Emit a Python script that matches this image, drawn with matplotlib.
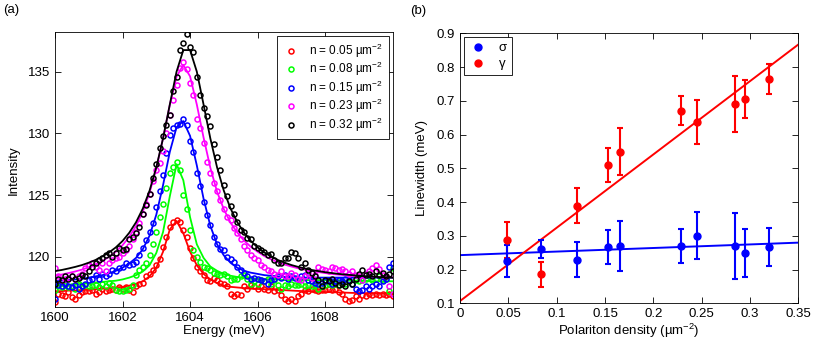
import matplotlib
matplotlib.use("Agg")
import matplotlib.pyplot as plt
from matplotlib.lines import Line2D

plt.rcParams.update({
    "font.family": ["Liberation Sans", "DejaVu Sans"],
    "font.size": 9.5,
    "mathtext.fontset": "custom",
    "mathtext.rm": "Liberation Sans",
    "mathtext.it": "Liberation Sans:italic",
    "axes.linewidth": 0.6,
    "xtick.direction": "in",
    "ytick.direction": "in",
    "xtick.top": True,
    "ytick.right": True,
    "xtick.major.size": 4,
    "ytick.major.size": 4,
    "xtick.major.width": 0.6,
    "ytick.major.width": 0.6,
})

# ---- panel (a): spectra, measured every 0.1 meV ----
energy = [
    1600.0, 1600.1, 1600.2, 1600.3, 1600.4, 1600.5, 1600.6, 1600.7, 1600.8, 1600.9,
    1601.0, 1601.1, 1601.2, 1601.3, 1601.4, 1601.5, 1601.6, 1601.7, 1601.8, 1601.9,
    1602.0, 1602.1, 1602.2, 1602.3, 1602.4, 1602.5, 1602.6, 1602.7, 1602.8, 1602.9,
    1603.0, 1603.1, 1603.2, 1603.3, 1603.4, 1603.5, 1603.6, 1603.7, 1603.8, 1603.9,
    1604.0, 1604.1, 1604.2, 1604.3, 1604.4, 1604.5, 1604.6, 1604.7, 1604.8, 1604.9,
    1605.0, 1605.1, 1605.2, 1605.3, 1605.4, 1605.5, 1605.6, 1605.7, 1605.8, 1605.9,
    1606.0, 1606.1, 1606.2, 1606.3, 1606.4, 1606.5, 1606.6, 1606.7, 1606.8, 1606.9,
    1607.0, 1607.1, 1607.2, 1607.3, 1607.4, 1607.5, 1607.6, 1607.7, 1607.8, 1607.9,
    1608.0, 1608.1, 1608.2, 1608.3, 1608.4, 1608.5, 1608.6, 1608.7, 1608.8, 1608.9,
    1609.0, 1609.1, 1609.2, 1609.3, 1609.4, 1609.5, 1609.6, 1609.7, 1609.8, 1609.9,
    1610.0,
]

red_pts = [
    116.3, 117.0, 116.9, 116.8, 117.1, 116.7, 116.6, 116.9, 117.1, 117.2,
    117.2, 117.3, 117.0, 117.1, 117.4, 117.2, 117.3, 117.4, 117.3, 117.5,
    117.4, 117.5, 117.3, 117.1, 117.6, 117.8, 117.9, 118.4, 118.6, 118.9,
    119.3, 119.8, 120.8, 121.6, 122.4, 122.8, 123.0, 122.8, 122.2, 121.6,
    120.7, 119.9, 119.2, 118.8, 118.5, 118.1, 118.0, 118.3, 118.1, 117.9,
    117.8, 117.6, 117.0, 116.8, 117.0, 116.9, 117.6, 117.4, 117.7, 117.6,
    117.4, 117.6, 117.4, 117.3, 117.6, 117.2, 117.3, 116.9, 116.6, 116.4,
    116.6, 116.4, 116.8, 117.0, 117.3, 117.2, 117.4, 117.3, 117.2, 117.3,
    117.3, 117.4, 117.3, 117.4, 117.1, 117.0, 116.6, 116.4, 116.5, 116.8,
    116.6, 116.9, 116.8, 117.0, 116.9, 117.0, 116.9, 117.0, 116.9, 117.0,
    116.8,
]
green_pts = [
    117.3, 117.6, 117.5, 117.7, 117.5, 117.6, 117.4, 117.8, 117.6, 117.7,
    117.6, 117.6, 117.7, 117.5, 117.8, 117.6, 117.9, 117.7, 117.3, 117.2,
    117.2, 117.3, 117.4, 117.7, 118.5, 118.9, 119.2, 119.5, 120.1, 121.0,
    122.0, 123.2, 124.3, 125.6, 126.8, 127.3, 127.7, 127.0, 125.0, 123.9,
    122.2, 120.5, 120.0, 119.6, 119.2, 119.05, 118.9, 118.7, 118.6, 118.5,
    118.6, 118.4, 118.1, 118.2, 118.2, 118.4, 118.5, 118.2, 117.8, 118.0,
    117.8, 118.1, 118.0, 118.2, 117.8, 118.1, 117.7, 117.4, 117.7, 117.6,
    117.8, 117.7, 117.7, 117.8, 117.6, 117.7, 117.6, 117.7, 117.4, 117.6,
    117.7, 117.8, 117.7, 117.8, 117.7, 118.0, 117.8, 118.0, 117.8, 118.1,
    118.0, 118.1, 118.2, 118.4, 118.1, 118.2, 118.4, 118.1, 118.2, 117.2,
    119.1,
]
blue_pts = [
    116.6, 117.7, 117.6, 117.8, 117.6, 117.5, 117.7, 117.4, 117.6, 117.8,
    118.1, 118.2, 118.5, 118.2, 118.6, 118.4, 118.6, 118.9, 118.8, 119.1,
    119.2, 119.5, 119.3, 119.4, 119.6, 120.1, 120.7, 121.35, 122.0, 122.7,
    124.0, 125.3, 126.6, 128.4, 129.9, 130.4, 130.7, 130.8, 131.2, 130.7,
    129.4, 128.5, 126.8, 125.7, 124.4, 123.4, 122.6, 121.6, 121.0, 120.6,
    120.5, 120.0, 119.8, 119.6, 119.2, 118.9, 118.7, 118.4, 118.2, 118.3,
    118.2, 118.1, 118.0, 117.8, 118.1, 118.2, 118.4, 118.3, 118.5, 118.2,
    118.4, 118.3, 118.2, 118.4, 118.5, 118.1, 118.0, 117.9, 117.8, 117.9,
    118.0, 118.1, 117.8, 118.0, 118.1, 118.0, 118.2, 118.1, 117.8, 117.4,
    117.2, 117.3, 117.6, 117.4, 117.6, 117.8, 117.6, 118.0, 118.2, 119.2,
    119.5,
]
magenta_pts = [
    119.1, 118.4, 118.1, 118.2, 118.3, 118.4, 118.2, 118.4, 118.6, 119.1,
    119.3, 119.5, 119.2, 118.9, 119.5, 118.8, 119.5, 119.7, 119.9, 120.0,
    120.3, 120.5, 120.9, 121.4, 122.0, 122.7, 123.5, 124.3, 125.1, 126.1,
    127.0, 127.6, 128.6, 130.0, 131.5, 132.7, 133.9, 135.3, 135.8, 135.2,
    134.1, 133.1, 131.2, 130.4, 129.2, 127.7, 126.8, 126.0, 125.3, 124.6,
    123.9, 123.2, 123.0, 122.3, 121.9, 121.4, 120.9, 120.5, 120.1, 119.9,
    119.7, 119.3, 119.2, 118.9, 118.8, 118.6, 118.5, 118.8, 118.4, 118.4,
    118.7, 118.5, 118.2, 118.1, 118.4, 118.7, 118.3, 118.5, 119.2, 119.0,
    118.9, 118.8, 119.2, 119.1, 118.9, 119.0, 118.8, 118.6, 118.8, 118.5,
    118.4, 118.1, 118.6, 118.8, 119.1, 119.3, 119.0, 118.5, 118.4, 117.6,
    117.0,
]
black_pts = [
    117.8, 118.2, 118.1, 118.4, 118.2, 118.4, 118.2, 118.3, 118.5, 118.4,
    118.8, 119.2, 119.5, 119.7, 119.9, 120.1, 120.3, 120.0, 120.3, 120.7,
    120.5, 120.6, 121.4, 121.6, 121.9, 122.4, 123.5, 124.2, 125.1, 126.4,
    127.5, 128.8, 129.8, 130.7, 131.5, 133.4, 134.6, 136.8, 137.3, 138.1,
    137.0, 136.6, 134.6, 133.1, 132.1, 131.4, 130.6, 129.1, 128.1, 127.0,
    125.8, 124.9, 124.1, 123.5, 122.8, 122.2, 122.0, 121.5, 121.4, 120.9,
    120.7, 120.5, 120.4, 120.1, 120.2, 119.7, 119.5, 119.5, 119.9, 119.9,
    120.4, 120.3, 119.9, 119.2, 119.5, 118.9, 118.7, 118.4, 118.1, 117.6,
    118.1, 118.0, 118.2, 117.9, 117.7, 117.8, 117.6, 118.0, 117.8, 118.2,
    118.6, 118.9, 118.5, 118.6, 118.4, 118.8, 118.5, 118.7, 118.4, 118.6,
    118.8,
]

# fitted curves every 0.2 meV (energy[::2])
red_fit = [
    117.2, 117.2, 117.25, 117.25, 117.3, 117.3, 117.35, 117.4, 117.45, 117.5,
    117.55, 117.65, 117.8, 118.0, 118.4, 119.1, 120.4, 122.2, 122.9, 121.9,
    120.4, 119.3, 118.6, 118.15, 117.85, 117.65, 117.55, 117.5, 117.45, 117.4,
    117.38, 117.35, 117.33, 117.3, 117.28, 117.25, 117.22, 117.2, 117.18, 117.15,
    117.13, 117.12, 117.1, 117.08, 117.06, 117.05, 117.04, 117.03, 117.02, 117.01, 117.0,
]
green_fit = [
    117.6, 117.65, 117.7, 117.75, 117.8, 117.85, 117.9, 117.95, 118.0, 118.05,
    118.15, 118.3, 118.5, 118.8, 119.3, 120.3, 122.0, 124.9, 127.5, 126.2,
    123.2, 121.0, 119.9, 119.2, 118.85, 118.6, 118.45, 118.35, 118.3, 118.25,
    118.2, 118.2, 118.15, 118.15, 118.1, 118.1, 118.1, 118.1, 118.1, 118.1,
    118.1, 118.1, 118.1, 118.05, 118.05, 118.05, 118.05, 118.0, 118.0, 118.0, 118.0,
]
blue_fit = [
    118.0, 118.05, 118.1, 118.15, 118.2, 118.3, 118.4, 118.5, 118.65, 118.85,
    119.1, 119.45, 119.9, 120.6, 121.7, 123.4, 125.8, 128.5, 130.5, 131.0,
    129.8, 127.4, 124.7, 122.5, 121.0, 120.1, 119.5, 119.1, 118.85, 118.7,
    118.6, 118.5, 118.45, 118.4, 118.35, 118.35, 118.3, 118.3, 118.3, 118.3,
    118.3, 118.3, 118.3, 118.3, 118.3, 118.3, 118.3, 118.3, 118.3, 118.3, 118.3,
]
magenta_fit = [
    118.45, 118.55, 118.67, 118.80, 118.95, 119.14, 119.37, 119.64, 119.98, 120.39,
    120.93, 121.61, 122.49, 123.65, 125.18, 127.16, 129.61, 132.31, 134.61, 135.55,
    134.63, 132.34, 129.66, 127.22, 125.26, 123.85, 122.75, 121.95, 121.30, 120.80,
    120.40, 120.05, 119.78, 119.55, 119.36, 119.20, 119.06, 118.94, 118.84, 118.75,
    118.67, 118.60, 118.54, 118.49, 118.45, 118.42, 118.40, 118.38, 118.35, 118.34, 118.33,
]
black_fit = [
    118.83, 118.92, 119.04, 119.17, 119.32, 119.51, 119.73, 120.01, 120.34, 120.75,
    121.27, 121.94, 122.79, 123.90, 125.35, 127.24, 129.60, 132.34, 135.01, 136.76,
    136.76, 135.01, 132.34, 129.60, 127.24, 125.35, 123.90, 122.79, 121.94, 121.27,
    120.75, 120.34, 120.01, 119.73, 119.51, 119.32, 119.17, 119.04, 118.92, 118.83,
    118.74, 118.67, 118.60, 118.55, 118.50, 118.45, 118.41, 118.38, 118.34, 118.32, 118.29,
]

densities_label = ["0.05", "0.08", "0.15", "0.23", "0.32"]
spectra_colors = ["#ff0000", "#00ff00", "#0000ff", "#ff00ff", "#000000"]
spectra_pts = [red_pts, green_pts, blue_pts, magenta_pts, black_pts]
spectra_fit = [red_fit, green_fit, blue_fit, magenta_fit, black_fit]

energy_ticks = [1600, 1602, 1604, 1606, 1608]
intensity_ticks = [120, 125, 130, 135]

# ---- panel (b): linewidths vs density ----
density = [0.049, 0.084, 0.121, 0.153, 0.166, 0.229, 0.245, 0.285, 0.295, 0.320]
sigma = [0.225, 0.261, 0.230, 0.268, 0.270, 0.270, 0.301, 0.270, 0.249, 0.267]
sigma_err = [0.047, 0.027, 0.051, 0.050, 0.073, 0.049, 0.070, 0.098, 0.072, 0.057]
gamma = [0.288, 0.186, 0.390, 0.510, 0.550, 0.671, 0.638, 0.691, 0.706, 0.764]
gamma_err = [0.054, 0.036, 0.052, 0.049, 0.071, 0.043, 0.066, 0.083, 0.057, 0.045]

fit_density = [0.0, 0.35]
sigma_line = [0.243, 0.280]
gamma_line = [0.107, 0.867]

density_ticks = [0, 0.05, 0.1, 0.15, 0.2, 0.25, 0.3, 0.35]
density_ticklabels = ["0", "0.05", "0.1", "0.15", "0.2", "0.25", "0.3", "0.35"]
width_ticks = [0.1, 0.2, 0.3, 0.4, 0.5, 0.6, 0.7, 0.8, 0.9]


fig = plt.figure(figsize=(8.22, 3.44), dpi=100)

# (a)
ax1 = fig.add_axes([0.0669, 0.107, 0.4108, 0.799])
fit_energy = energy[::2]
for lab, col, pts, fit in zip(densities_label, spectra_colors, spectra_pts, spectra_fit):
    ax1.plot(energy, pts, "o", mfc="none", mec=col, ms=3.6, mew=1.1,
             label=f"n = {lab} \u00b5m$^{{-2}}$")
    ax1.plot(fit_energy, fit, "-", color=col, lw=1.3)
ax1.set_xlim(1600, 1610)
ax1.set_ylim(115.9, 138.2)
ax1.set_xticks(energy_ticks)
ax1.set_yticks(intensity_ticks)
ax1.set_xlabel("Energy (meV)", labelpad=1)
ax1.set_ylabel("Intensity", labelpad=6)
leg1 = ax1.legend(loc="upper right", fontsize=8.5, frameon=True, fancybox=False,
                  edgecolor="black", framealpha=1, borderaxespad=0.35,
                  handlelength=1.5, handletextpad=0.8, labelspacing=0.02,
                  borderpad=0.45)
leg1.get_frame().set_linewidth(0.6)
fig.text(0.004, 0.962, "(a)", fontsize=9.5)

# (b)
ax2 = fig.add_axes([0.5596, 0.118, 0.4116, 0.785])
ax2.plot(fit_density, sigma_line, "-", color="#0000ff", lw=1.4)
ax2.plot(fit_density, gamma_line, "-", color="#ff0000", lw=1.4)
ax2.errorbar(density, gamma, yerr=gamma_err, fmt="o", color="#ff0000", ms=5,
             elinewidth=1.5, capsize=2.2, capthick=1.5)
ax2.errorbar(density, sigma, yerr=sigma_err, fmt="o", color="#0000ff", ms=5,
             elinewidth=1.5, capsize=2.2, capthick=1.5)
ax2.set_xlim(0, 0.35)
ax2.set_ylim(0.1, 0.9)
ax2.set_xticks(density_ticks)
ax2.set_xticklabels(density_ticklabels)
ax2.set_yticks(width_ticks)
ax2.set_xlabel("Polariton density (\u00b5m$^{-2}$)", labelpad=1)
ax2.set_ylabel("Linewidth (meV)", labelpad=6)
legend_handles = [
    Line2D([], [], ls="none", marker="o", color="#0000ff", ms=5),
    Line2D([], [], ls="none", marker="o", color="#ff0000", ms=5),
]
leg2 = ax2.legend(legend_handles, ["\u03c3", "\u03b3"], loc="upper left",
                  fontsize=9.5, frameon=True, fancybox=False, edgecolor="black",
                  framealpha=1, borderaxespad=0.3, handlelength=1.4,
                  handletextpad=0.9, labelspacing=0.3, borderpad=0.35)
leg2.get_frame().set_linewidth(0.6)
fig.text(0.4995, 0.958, "(b)", fontsize=9.5)

fig.savefig("out.png", dpi=100)
